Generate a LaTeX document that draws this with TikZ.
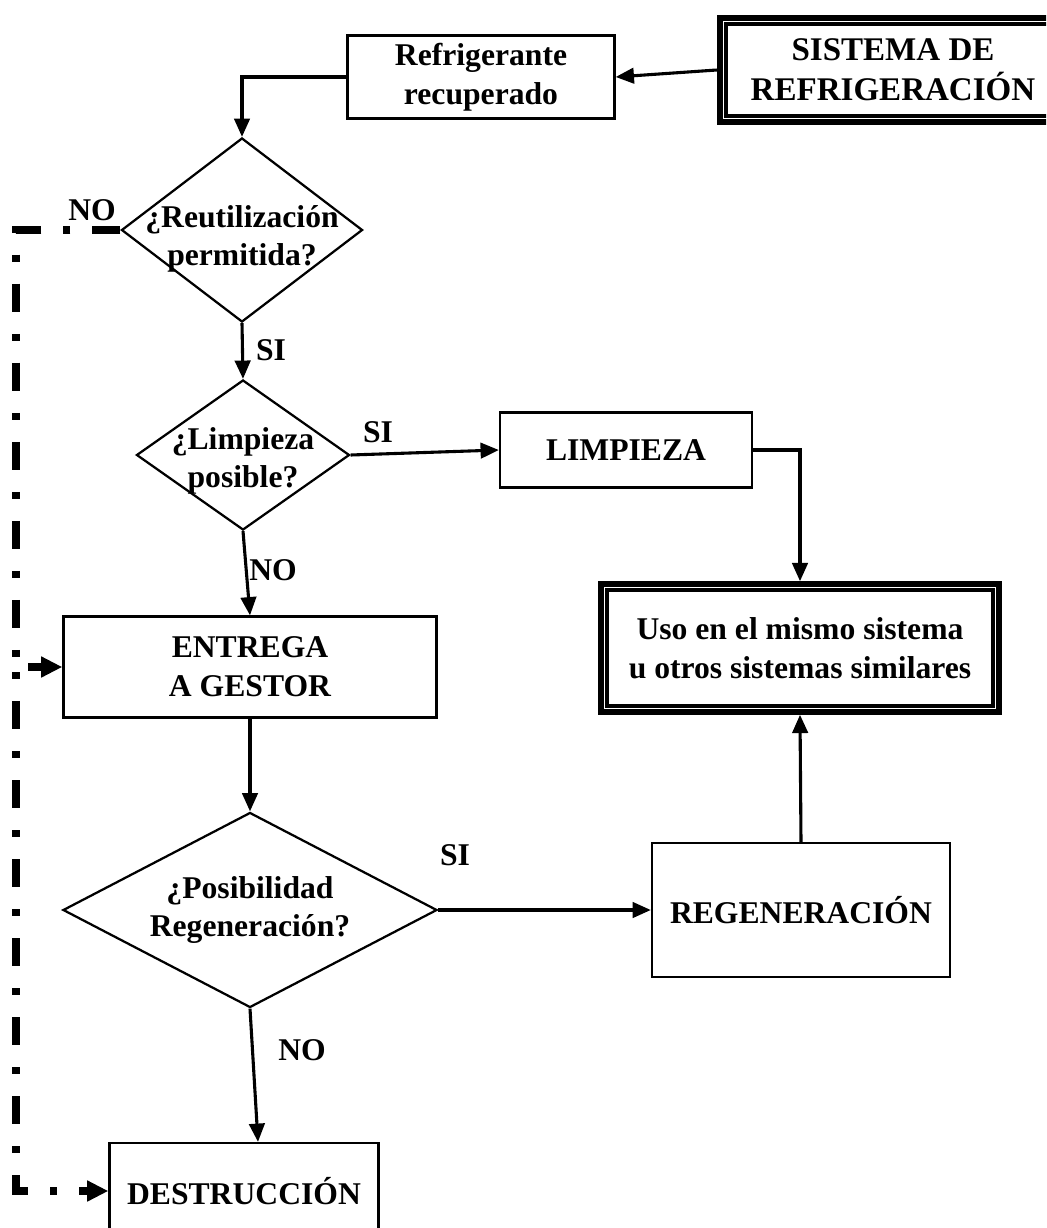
\documentclass[tikz,border=0pt]{standalone}
\usepackage{fontspec}
\setmainfont{Liberation Serif}
\usetikzlibrary{arrows.meta}
\usetikzlibrary{positioning}
\usetikzlibrary{shapes.geometric}

\begin{document}
\begin{tikzpicture}[x=0.025cm,y=-0.025cm,>={Triangle[length=13pt,width=11pt]}]
	\tikzset{caja/.style = {shape=rectangle, draw, line width=1.6pt, align=center, font=\fontsize{22.5}{27.5}\selectfont\bfseries},
		marco/.style = {caja, line width=4.2pt},
		rombo/.style = {shape=diamond, draw, line width=1.6pt, inner sep=0pt},
		texto/.style = {align=center, font=\fontsize{22.5}{27.5}\selectfont\bfseries},
		flecha/.style = {->, line width=2.2pt},
		retorno/.style = {-{Triangle[length=15pt,width=14pt]}, line width=5.7pt, dash pattern=on 20pt off 15.6pt on 5pt off 15.6pt}}
	\useasboundingbox (0,0) rectangle (1046,1228);
	\clip (0,0) rectangle (1046,1228);
	
	% cajas
	\node[marco, minimum width=8.66cm, minimum height=2.6cm, font=\fontsize{23.5}{28.5}\selectfont\bfseries] (sis) at (893,70) {SISTEMA DE\\REFRIGERACIÓN};
	\draw[line width=2.6pt] ([shift={(9,9)}]sis.north west) rectangle ([shift={(-9,-9)}]sis.south east);
	\node[caja, minimum width=6.675cm, minimum height=2.075cm] (rec) at (481,77) {Refrigerante\\recuperado};
	\node[rombo, minimum width=6.025cm, minimum height=4.6cm, label={[texto, yshift=-0.22cm]center:{¿Reutilización\\permitida?}}] (reu) at (242,230) {};
	\node[rombo, minimum width=5.325cm, minimum height=3.75cm, label={[texto, yshift=-0.15cm]center:{¿Limpieza\\posible?}}] (lmp) at (243,455) {};
	\node[caja, minimum width=6.3cm, minimum height=1.875cm] (lim) at (626,450) {LIMPIEZA};
	\node[marco, minimum width=9.96cm, minimum height=3.19cm] (uso) at (800,648) {Uso en el mismo sistema\\u otros sistemas similares};
	\draw[line width=2.6pt] ([shift={(9,9)}]uso.north west) rectangle ([shift={(-9,-9)}]uso.south east);
	\node[caja, minimum width=9.325cm, minimum height=2.525cm] (ent) at (250,667) {ENTREGA\\A GESTOR};
	\node[rombo, minimum width=9.35cm, minimum height=4.875cm, label={[texto]center:{¿Posibilidad\\Regeneración?}}] (pos) at (250,910) {};
	\node[caja, minimum width=7.45cm, minimum height=3.35cm] (reg) at (801,910) {REGENERACIÓN};
	\node[caja, minimum width=6.725cm, minimum height=2.4cm] (des) at (244,1191) {DESTRUCCIÓN};
	
	% etiquetas
	\node[texto] (no1) at (92,210) {NO};
	\node[texto] (si1) at (271,350) {SI};
	\node[texto] (si2) at (378,432) {SI};
	\node[texto] (no2) at (273,570) {NO};
	\node[texto] (si3) at (455,855) {SI};
	\node[texto] (no3) at (302,1050) {NO};
	
	% flechas
	\draw[flecha] (sis.west) -- (rec.east);
	\draw[flecha] (rec.west) -| (reu.north);
	\draw[flecha] (reu.south) -- (lmp.north);
	\draw[flecha] (lmp.east) -- (lim.west);
	\draw[flecha] (lim.east) -| (uso.north);
	\draw[flecha] (lmp.south) -- (ent.north);
	\draw[flecha] (ent.south) -- (pos.north);
	\draw[flecha] (pos.east) -- (reg.west);
	\draw[flecha] (reg.north) -- (uso.south);
	\draw[flecha] (pos.south) -- (des.north -| 258,0);
	
	% retorno
	\coordinate (c1) at (16,230);
	\coordinate (c2) at (16,1191);
	\coordinate (c3) at (28,667);
	\coordinate (c4) at (16,664);
	\draw[retorno, -] (reu.west) -- (c1) -- (c4);
	\draw[retorno, dash phase=29.9pt] (c4) -- (c2) -- (des.west);
	\draw[retorno, dash pattern=on 20pt off 5pt] (c3) -- (ent.west);
\end{tikzpicture}
\end{document}
